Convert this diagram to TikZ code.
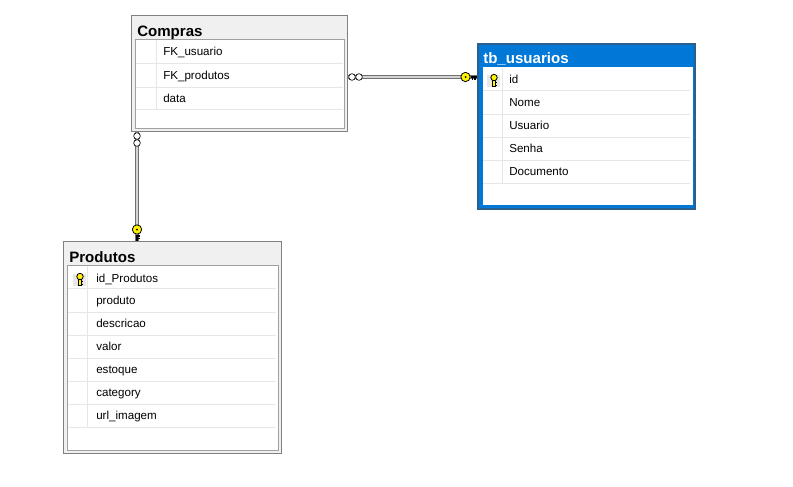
\documentclass[tikz,border=0pt]{standalone}
\usepackage{fontspec}
\setmainfont{Liberation Sans}
\usetikzlibrary{positioning}

\definecolor{frameGray}{HTML}{808080}
\definecolor{titleGray}{HTML}{F0F0F0}
\definecolor{boxGray}{HTML}{A0A0A0}
\definecolor{rowGray}{HTML}{E6E6E6}
\definecolor{relGray}{HTML}{707070}
\definecolor{relLight}{HTML}{D4D4D4}
\definecolor{keyYellow}{HTML}{FFF200}
\definecolor{keyBack}{HTML}{E8E8E8}
\definecolor{selBlue}{HTML}{0078D7}
\definecolor{selBorder}{HTML}{2B5F8E}

\begin{document}
\begin{tikzpicture}[
    x=0.75pt, y=-0.75pt,
    tableFrame/.style={draw=frameGray, fill=titleGray, anchor=north west, inner sep=0pt, line width=0.75pt},
    selFrame/.style={draw=selBorder, fill=selBlue, anchor=north west, inner sep=0pt, line width=1.5pt},
    innerBox/.style={draw=boxGray, fill=white, anchor=north west, inner sep=0pt, line width=0.75pt},
    tableTitle/.style={anchor=base west, inner sep=0pt, font=\bfseries\fontsize{11.3}{13}\selectfont},
    field/.style={anchor=base west, inner sep=0pt, yshift=-3.3pt, font=\fontsize{8.7}{10}\selectfont},
    rowLine/.style={draw=rowGray, line width=0.75pt},
    relLine/.style={draw=relGray, double=relLight, double distance=0.9pt, line width=0.75pt},
    optCircle/.style={circle, draw=black, fill=white, minimum size=5pt, inner sep=0pt, line width=0.5pt},
    keyCircle/.style={circle, draw=black, fill=keyYellow, minimum size=7pt, inner sep=0pt, line width=0.6pt},
    keyIcon/.pic={
        \fill[keyBack] (-7,-4) rectangle (6,8);
        \draw[line width=0.6pt, fill=keyYellow] (-1.2,0.5) rectangle (1.2,7);
        \draw[line width=0.6pt, fill=keyYellow] (0,-1.5) circle[radius=3.2];
        \draw[line width=0.7pt] (1.2,3.5) -- (2.8,3.5) (1.2,6) -- (2.8,6);
    }
    ]
    \useasboundingbox[fill=white] (0,0) rectangle (793,486);

    % Compras
    \node[tableFrame, minimum width=162pt, minimum height=87pt] (compras) at (131,15) {};
    \node[innerBox, minimum width=156.75pt, minimum height=66.75pt] (comprasBox) at (135,39) {};
    \node[tableTitle] (comprasTitle) at (137,36) {Compras};
    \draw[rowLine] (136,63) -- (343,63) (136,87) -- (343,87) (136,109) -- (343,109);
    \draw[rowLine] (156,40) -- (156,109);
    \node[field] (fkUsuario) at (163,51) {FK\_usuario};
    \node[field] (fkProdutos) at (163,75) {FK\_produtos};
    \node[field] (data) at (163,98) {data};

    % tb_usuarios
    \node[selFrame, minimum width=162.75pt, minimum height=123.75pt] (usuarios) at (477,43) {};
    \node[innerBox, draw=white, minimum width=156.75pt, minimum height=102.75pt] (usuariosBox) at (482.5,67) {};
    \node[tableTitle, text=white] (usuariosTitle) at (483,63.5) {tb\_usuarios};
    \draw[rowLine] (483,90) -- (690,90) (483,114) -- (690,114) (483,137) -- (690,137)
        (483,160) -- (690,160) (483,183) -- (690,183);
    \draw[rowLine] (502,68) -- (502,183);
    \pic at (494,79) {keyIcon};
    \node[field] (id) at (509,79) {id};
    \node[field] (nome) at (509,102) {Nome};
    \node[field] (usuario) at (509,125) {Usuario};
    \node[field] (senha) at (509,148) {Senha};
    \node[field] (documento) at (509,171) {Documento};

    % Produtos
    \node[tableFrame, minimum width=163.5pt, minimum height=159pt] (produtos) at (63,241) {};
    \node[innerBox, minimum width=158.25pt, minimum height=138.75pt] (produtosBox) at (67,265) {};
    \node[tableTitle] (produtosTitle) at (69,262) {Produtos};
    \draw[rowLine] (68,288) -- (276,288) (68,312) -- (276,312) (68,335) -- (276,335)
        (68,358) -- (276,358) (68,381) -- (276,381) (68,404) -- (276,404) (68,427) -- (276,427);
    \draw[rowLine] (87,266) -- (87,427);
    \pic at (80,278) {keyIcon};
    \node[field] (idProdutos) at (96,278) {id\_Produtos};
    \node[field] (produto) at (96,300) {produto};
    \node[field] (descricao) at (96,323) {descricao};
    \node[field] (valor) at (96,346) {valor};
    \node[field] (estoque) at (96,369) {estoque};
    \node[field] (category) at (96,392) {category};
    \node[field] (urlImagem) at (96,415) {url\_imagem};

    % relationships
    \coordinate (relY) at (0,77);
    \coordinate (relX) at (137,0);
    \draw[relLine] (compras.east |- relY) -- (usuarios.west |- relY);
    \draw[relLine] (compras.south -| relX) -- (produtos.north -| relX);

    \node[optCircle] (ooA) at (352,77) {};
    \node[optCircle] (ooB) at (359,77) {};
    \node[keyCircle] (keyA) at (465.5,77) {};
    \fill (keyA.center) circle[radius=1];
    \draw[line width=0.8pt] (keyA.east) -- (477,77) (472.5,77) -- (472.5,79.5) (475,77) -- (475,79.5);

    \node[optCircle] (ooC) at (137,136) {};
    \node[optCircle] (ooD) at (137,143) {};
    \node[keyCircle] (keyB) at (137,229.5) {};
    \fill (keyB.center) circle[radius=1];
    \draw[line width=0.8pt] (keyB.south) -- (137,241) (137,236) -- (139.5,236) (137,238.5) -- (139.5,238.5);
\end{tikzpicture}
\end{document}
